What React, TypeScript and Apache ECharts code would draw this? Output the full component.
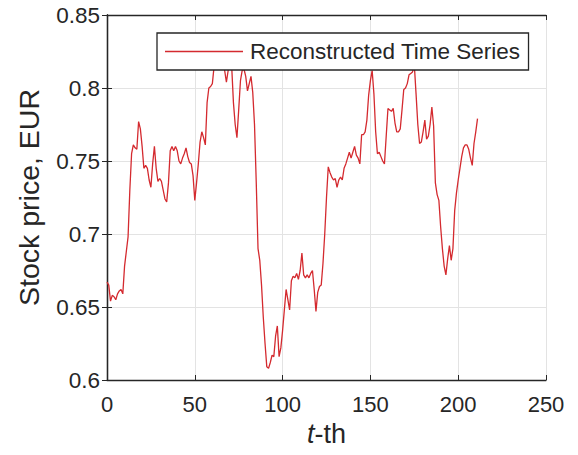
import React, { useEffect, useRef } from "react";
import * as echarts from "echarts";

const seriesName = "Reconstructed Time Series";
const xTicks = [0, 50, 100, 150, 200, 250];
const yTicks = [0.6, 0.65, 0.7, 0.75, 0.8, 0.85];

// Stock price read at t = 0, 1, 2, ... (index = t-th)
const prices = [
  0.667, 0.665, 0.654, 0.658, 0.657, 0.655, 0.659, 0.661, 0.662, 0.659,
  0.678, 0.688, 0.698, 0.730, 0.755, 0.761, 0.759, 0.758, 0.777, 0.772,
  0.760, 0.745, 0.747, 0.745, 0.737, 0.732, 0.748, 0.760, 0.745, 0.736,
  0.738, 0.736, 0.730, 0.724, 0.722, 0.735, 0.757, 0.760, 0.757, 0.760,
  0.757, 0.750, 0.748, 0.752, 0.755, 0.759, 0.753, 0.749, 0.748, 0.740,
  0.723, 0.735, 0.748, 0.763, 0.770, 0.766, 0.761, 0.790, 0.800, 0.801,
  0.803, 0.815, 0.820, 0.825, 0.822, 0.818, 0.820, 0.812, 0.804, 0.812,
  0.818, 0.815, 0.790, 0.775, 0.766, 0.785, 0.805, 0.812, 0.813, 0.808,
  0.798, 0.803, 0.808, 0.797, 0.775, 0.735, 0.690, 0.682, 0.665, 0.643,
  0.625, 0.609, 0.608, 0.612, 0.617, 0.616, 0.630, 0.637, 0.616, 0.622,
  0.634, 0.648, 0.662, 0.655, 0.648, 0.668, 0.671, 0.670, 0.673, 0.669,
  0.675, 0.687, 0.672, 0.670, 0.672, 0.670, 0.673, 0.675, 0.662, 0.647,
  0.660, 0.664, 0.665, 0.680, 0.700, 0.725, 0.746, 0.742, 0.739, 0.737,
  0.738, 0.732, 0.737, 0.739, 0.737, 0.745, 0.748, 0.752, 0.756, 0.752,
  0.756, 0.760, 0.754, 0.752, 0.748, 0.768, 0.768, 0.770, 0.778, 0.795,
  0.805, 0.812, 0.796, 0.770, 0.755, 0.756, 0.753, 0.750, 0.748, 0.767,
  0.786, 0.785, 0.784, 0.786, 0.776, 0.770, 0.770, 0.772, 0.785, 0.799,
  0.800, 0.803, 0.809, 0.810, 0.811, 0.816, 0.796, 0.775, 0.762, 0.763,
  0.770, 0.778, 0.765, 0.767, 0.775, 0.787, 0.774, 0.735, 0.727, 0.723,
  0.705, 0.690, 0.678, 0.672, 0.683, 0.692, 0.682, 0.690, 0.716, 0.728,
  0.737, 0.745, 0.753, 0.759, 0.761, 0.761, 0.758, 0.752, 0.747, 0.762,
  0.770, 0.779,
];

const FONT = "'Liberation Sans', Arial, Helvetica, sans-serif";
const TXT = "#262626";
const AX = "#262626";
const RED = "#d42a2f";

export default function App() {
  const ref = useRef<HTMLDivElement>(null);
  useEffect(() => {
    if (!ref.current) return;
    const chart = echarts.init(ref.current, undefined, { renderer: "svg" });
    const fmtY = (v: number) => String(+v.toFixed(2));
    const commonX = {
      type: "value" as const,
      min: xTicks[0],
      max: xTicks[xTicks.length - 1],
      interval: 50,
    };
    const commonY = {
      type: "value" as const,
      min: yTicks[0],
      max: yTicks[yTicks.length - 1],
      interval: 0.05,
    };
    chart.setOption({
      animation: false,
      backgroundColor: "#ffffff",
      textStyle: { fontFamily: FONT },
      grid: { left: 107, right: 32, top: 15, bottom: 75, containLabel: false },
      legend: {
        show: true,
        data: [{ name: seriesName, icon: "rect" }],
        left: 157,
        top: 33,
        orient: "horizontal",
        padding: [7, 8, 7, 8],
        itemWidth: 78,
        itemHeight: 1.5,
        itemGap: 6,
        itemStyle: { color: RED },
        backgroundColor: "#ffffff",
        borderColor: AX,
        borderWidth: 1.3,
        borderRadius: 0,
        textStyle: { fontSize: 22.5, color: TXT, fontFamily: FONT, lineHeight: 23, padding: [0, 0, 0, 2] },
        z: 10,
      },
      xAxis: [
        {
          ...commonX,
          position: "bottom",
          name: "{i|t}-th",
          nameLocation: "middle",
          nameGap: 40,
          nameTextStyle: {
            fontSize: 27,
            color: TXT,
            fontFamily: FONT,
            rich: {
              i: { fontStyle: "italic", fontSize: 27, color: TXT, fontFamily: FONT },
              },
          },
          axisLine: { show: true, lineStyle: { color: AX, width: 1.3 } },
          axisTick: { show: true, inside: true, length: 5, lineStyle: { color: AX } },
          axisLabel: { fontSize: 22, color: TXT, margin: 13, fontFamily: FONT },
          splitLine: { show: true, lineStyle: { color: "#e3e3e3", width: 1 } },
        },
        {
          ...commonX,
          position: "top",
          axisLine: { show: true, lineStyle: { color: AX, width: 1.3 } },
          axisTick: { show: true, inside: true, length: 5, lineStyle: { color: AX } },
          axisLabel: { show: false },
          splitLine: { show: false },
        },
      ],
      yAxis: [
        {
          ...commonY,
          position: "left",
          name: "Stock price, EUR",
          nameLocation: "middle",
          nameGap: 64,
          nameTextStyle: { fontSize: 28.5, color: TXT, fontFamily: FONT },
          axisLine: { show: true, lineStyle: { color: AX, width: 1.3 } },
          axisTick: { show: true, inside: true, length: 5, lineStyle: { color: AX } },
          axisLabel: { fontSize: 22.5, color: TXT, margin: 7, fontFamily: FONT, formatter: fmtY },
          splitLine: { show: true, lineStyle: { color: "#e3e3e3", width: 1 } },
        },
        {
          ...commonY,
          position: "right",
          axisLine: { show: true, lineStyle: { color: AX, width: 1.3 } },
          axisTick: { show: true, inside: true, length: 5, lineStyle: { color: AX } },
          axisLabel: { show: false },
          splitLine: { show: false },
        },
      ],
      series: [
        {
          name: seriesName,
          type: "line",
          xAxisIndex: 0,
          yAxisIndex: 0,
          data: prices.map((v, i) => [i, v]),
          symbol: "none",
          showSymbol: false,
          smooth: false,
          lineStyle: { color: RED, width: 1.3 },
          itemStyle: { color: RED },
          clip: true,
        },
      ],
    });
    return () => chart.dispose();
  }, []);
  return (
    <div
      ref={ref}
      style={{ position: "fixed", left: 0, top: 0, width: 578, height: 455, background: "#fff" }}
    />
  );
}
